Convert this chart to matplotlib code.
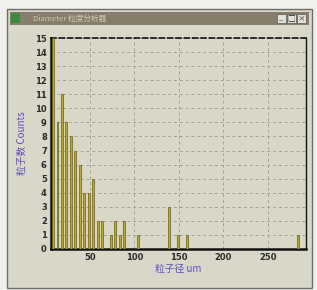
import matplotlib.pyplot as plt
from matplotlib.patches import Rectangle

# particle size bins (um) and counts
diameters = [8.5, 13.5, 18.5, 23.5, 28.5, 33.5, 38.5, 43.5, 48.5, 53.5, 58.5, 63.5,
             73.5, 78.5, 83.5, 88.5, 103.5, 138.5, 148.5, 158.5, 283.5]
counts = [15, 9, 11, 9, 8, 7, 6, 4, 4, 5, 2, 2,
          1, 2, 1, 2, 1, 3, 1, 1, 1]
x_ticks = [50, 100, 150, 200, 250]
y_ticks = list(range(0, 16))

W, H = 317, 290
cjk = ['Noto Sans CJK SC', 'DejaVu Sans']

fig = plt.figure(figsize=(W / 100, H / 100), dpi=100)
fig.patch.set_facecolor('#efefec')

def px_rect(x0, y0, x1, y1, **kw):
    # rectangle given in pixel coords (origin top-left), drawn behind the axes
    r = Rectangle((x0 / W, 1 - y1 / H), (x1 - x0) / W, (y1 - y0) / H,
                  transform=fig.transFigure, zorder=-5, **kw)
    fig.patches.append(r)

# window frame + body
px_rect(7, 9, 312, 288, facecolor='#d9d7c8', edgecolor='#6e6e6a', lw=1.0)
# title bar
px_rect(10, 12, 309, 25, facecolor='#867d6c', edgecolor='none')
px_rect(11, 13, 20, 23, facecolor='#3f8a3a', edgecolor='none')
fig.text(33 / W, 1 - 18.5 / H, 'Diameter 粒度分析器', family=cjk, fontsize=5.5,
         color='#cfcabb', va='center', ha='left')
for i, s in enumerate(['_', '□', '×']):
    bx = 277 + i * 10
    px_rect(bx, 14, bx + 9, 23, facecolor='#e4e2d8', edgecolor='#555555', lw=0.5)
    fig.text((bx + 4.5) / W, 1 - 18.5 / H, s, family=cjk, fontsize=5.5,
             color='#222222', ha='center', va='center')

ax = fig.add_axes([51 / W, 1 - 249 / H, 255 / W, 211 / H])
ax.set_facecolor('#d9d7c8')

ax.bar(diameters, counts, width=2.2, color='#b8a935', edgecolor='#6a5f12',
       linewidth=0.5, zorder=3)

ax.set_xlim(6.2, 292.7)
ax.set_ylim(0, 15)
ax.set_xticks(x_ticks)
ax.set_yticks(y_ticks)
ax.tick_params(length=0, labelsize=6, colors='#2a2a2a', pad=3)
for lab in ax.get_xticklabels() + ax.get_yticklabels():
    lab.set_fontweight('bold')

ax.grid(True, color='#a09f98', linestyle=(0, (3, 3)), linewidth=0.7, zorder=1)

ax.spines['left'].set_linewidth(1.8)
ax.spines['bottom'].set_linewidth(1.8)
ax.spines['right'].set_linewidth(1.0)
ax.spines['top'].set_linewidth(1.2)
ax.spines['top'].set_linestyle((0, (3, 2)))
for s in ax.spines.values():
    s.set_color('#111111')

ax.set_xlabel('粒子径 um', family=cjk, fontsize=7, color='#5b4fc4', labelpad=1)
ax.set_ylabel('粒子数 Counts', family=cjk, fontsize=7, color='#5b4fc4', labelpad=6)

fig.savefig('out.png', dpi=100, facecolor=fig.get_facecolor())
